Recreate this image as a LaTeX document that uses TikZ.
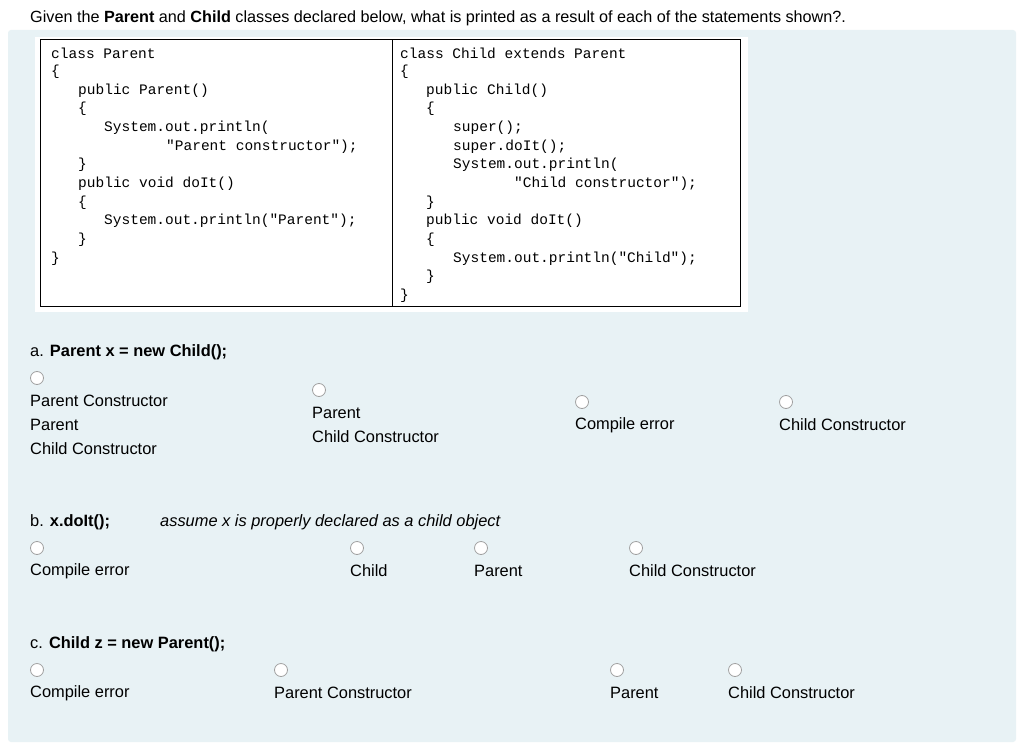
\documentclass[tikz,border=0pt]{standalone}
\usepackage{fontspec}
\setmainfont{Liberation Sans}
\newfontfamily\codefont{Liberation Mono}
\definecolor{panel}{HTML}{E8F2F5}
\definecolor{radio}{HTML}{A0A0A0}
\begin{document}
\begin{tikzpicture}[x=1pt,y=-1pt,
  txt/.style={anchor=west,inner sep=0pt,font=\fontsize{16.4}{19}\selectfont},
  code/.style={anchor=west,inner sep=0pt,font=\codefont\fontsize{14.5}{17}\selectfont},
  rad/.style={circle,draw=radio,fill=white,line width=0.8pt,minimum size=13pt,inner sep=0pt}]
\useasboundingbox (0,0) rectangle (1024,754);
\fill[white] (0,0) rectangle (1024,754);
\fill[panel,rounded corners=3pt] (8,30) rectangle (1016,742);
\node[txt,font=\fontsize{16.2}{19}\selectfont] (q) at (30,18) {Given the \textbf{Parent} and \textbf{Child} classes declared below, what is printed as a result of each of the statements shown?.};
\fill[white] (35,37) rectangle (748,312);
\draw[line width=1pt] (40,40) rectangle (740,306);
\draw[line width=1pt] (392,40) -- (392,306);
% left code
\node[code] (l1) at (51,53) {class Parent};
\node[code] (l2) at (51,72) {\{};
\node[code] (l3) at (78,91) {public Parent()};
\node[code] (l4) at (78,109) {\{};
\node[code] (l5) at (104,128) {System.out.println(};
\node[code] (l6) at (166,147) {"Parent constructor");};
\node[code] (l7) at (78,165) {\}};
\node[code] (l8) at (78,184) {public void doIt()};
\node[code] (l9) at (78,203) {\{};
\node[code] (l10) at (104,221) {System.out.println("Parent");};
\node[code] (l11) at (78,240) {\}};
\node[code] (l12) at (51,259) {\}};
% right code
\node[code] (r1) at (400,53) {class Child extends Parent};
\node[code] (r2) at (400,72) {\{};
\node[code] (r3) at (426,91) {public Child()};
\node[code] (r4) at (426,109) {\{};
\node[code] (r5) at (453,128) {super();};
\node[code] (r6) at (453,147) {super.doIt();};
\node[code] (r7) at (453,165) {System.out.println(};
\node[code] (r8) at (514,184) {"Child constructor");};
\node[code] (r9) at (426,203) {\}};
\node[code] (r10) at (426,221) {public void doIt()};
\node[code] (r11) at (426,240) {\{};
\node[code] (r12) at (453,259) {System.out.println("Child");};
\node[code] (r13) at (426,277) {\}};
\node[code] (r14) at (400,296) {\}};
% a
\node[txt] (qa) at (30,352) {a. \textbf{Parent x = new Child();}};
\node[rad] (ra1) at (37,378) {};
\node[txt] (a1) at (30,401) {Parent Constructor};
\node[txt] at (30,425) {Parent};
\node[txt] at (30,449) {Child Constructor};
\node[rad] (ra2) at (319,390) {};
\node[txt] (a2) at (312,413) {Parent};
\node[txt] at (312,437) {Child Constructor};
\node[rad] (ra3) at (582,402) {};
\node[txt] (a3) at (575,425) {Compile error};
\node[rad] (ra4) at (786,402) {};
\node[txt] (a4) at (779,425) {Child Constructor};
% b
\node[txt] (qb) at (30,522) {b. \textbf{x.doIt();}};
\node[txt] (hint) at (160,522) {\itshape assume x is properly declared as a child object};
\node[rad] (rb1) at (37,548) {};
\node[txt] (b1) at (30,571) {Compile error};
\node[rad] (rb2) at (357,548) {};
\node[txt] (b2) at (350,571) {Child};
\node[rad] (rb3) at (481,548) {};
\node[txt] (b3) at (474,571) {Parent};
\node[rad] (rb4) at (636,548) {};
\node[txt] (b4) at (629,571) {Child Constructor};
% c
\node[txt] (qc) at (30,644) {c. \textbf{Child z = new Parent();}};
\node[rad] (rc1) at (37,670) {};
\node[txt] (c1) at (30,693) {Compile error};
\node[rad] (rc2) at (281,670) {};
\node[txt] (c2) at (274,693) {Parent Constructor};
\node[rad] (rc3) at (617,670) {};
\node[txt] (c3) at (610,693) {Parent};
\node[rad] (rc4) at (735,670) {};
\node[txt] (c4) at (728,693) {Child Constructor};
\end{tikzpicture}
\end{document}
